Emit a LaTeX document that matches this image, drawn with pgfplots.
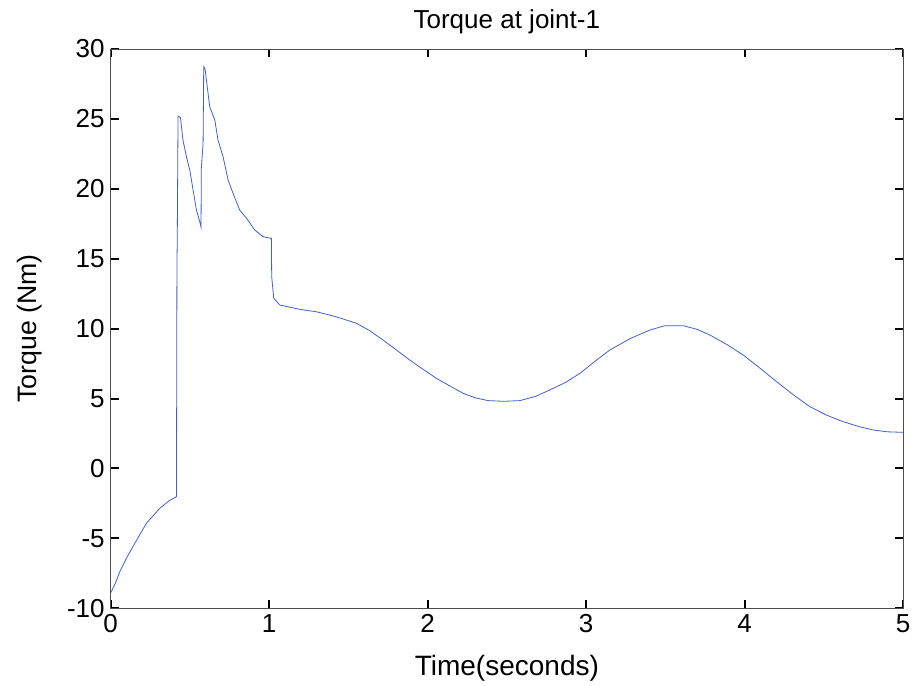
\documentclass[border=0pt]{standalone}
\usepackage{fontspec}
\setmainfont{Liberation Sans}
\usepackage{pgfplots}
\pgfplotsset{compat=1.18}
\definecolor{mlblue}{RGB}{65,95,205}
\begin{document}
\begin{tikzpicture}
\begin{axis}[
  scale only axis,
  width=594pt, height=419.25pt,
  xmin=0, xmax=5, ymin=-10, ymax=30,
  xtick={0,1,2,3,4,5},
  ytick={-10,-5,0,5,10,15,20,25,30},
  /pgf/number format/assume math mode=true,
  ticklabel style={font=\fontsize{19.5}{21}\selectfont},
  tick align=inside,
  major tick length=6pt,
  tick style={black, line width=1.5pt},
  axis line style={draw=black!70, line width=0.7pt},
  xticklabel style={yshift=-1pt},
  yticklabel style={xshift=-1pt},
  title={Torque at joint-1},
  title style={font=\fontsize{19.5}{21}\selectfont, yshift=2pt},
  xlabel={Time(seconds)},
  ylabel={Torque (Nm)},
  xlabel style={font=\fontsize{21}{23}\selectfont, yshift=-10pt},
  ylabel style={font=\fontsize{20}{22}\selectfont, yshift=12pt},
]
\addplot[mlblue, line width=0.6pt] coordinates {
(0,-8.9) (0.03,-8.2) (0.057,-7.4) (0.099,-6.43) (0.152,-5.36) (0.225,-3.93)
(0.309,-2.86) (0.37,-2.3) (0.415,-2.02) (0.418,14.5) (0.42,16.3) (0.425,25.2)
(0.44,25.1) (0.446,24.5) (0.456,23.49) (0.478,22.30) (0.499,21.34) (0.520,19.91)
(0.541,18.48) (0.562,17.65) (0.570,17.25) (0.572,21.5) (0.583,23.25) (0.587,28.73)
(0.595,28.6) (0.604,27.78) (0.625,25.87) (0.657,24.92) (0.677,23.49) (0.709,22.30)
(0.741,20.63) (0.772,19.68) (0.814,18.48) (0.857,17.89) (0.909,17.05) (0.962,16.57)
(1.014,16.46) (1.016,13.7) (1.022,13.0) (1.029,12.17) (1.067,11.69) (1.193,11.38)
(1.3,11.2) (1.383,10.97) (1.45,10.75) (1.551,10.38) (1.635,9.85) (1.719,9.18)
(1.8,8.5) (1.888,7.75) (1.97,7.1) (2.056,6.44) (2.14,5.9) (2.224,5.37) (2.3,5.05)
(2.382,4.85) (2.48,4.8) (2.582,4.85) (2.68,5.15) (2.771,5.61) (2.87,6.15)
(2.961,6.80) (3.06,7.7) (3.150,8.47) (3.28,9.3) (3.403,9.90) (3.497,10.21)
(3.613,10.21) (3.7,9.95) (3.782,9.54) (3.89,8.85) (3.992,8.11) (4.1,7.15)
(4.203,6.20) (4.31,5.25) (4.413,4.41) (4.52,3.8) (4.623,3.34) (4.72,3.0)
(4.812,2.75) (4.9,2.62) (5.0,2.58)
};
\end{axis}
\path (current axis.south west) ++(-83pt,-57.75pt) coordinate (bl);
\path (current axis.north east) ++(9.75pt,36.75pt) coordinate (tr);
\path (bl) rectangle (tr);
\end{tikzpicture}
\end{document}
